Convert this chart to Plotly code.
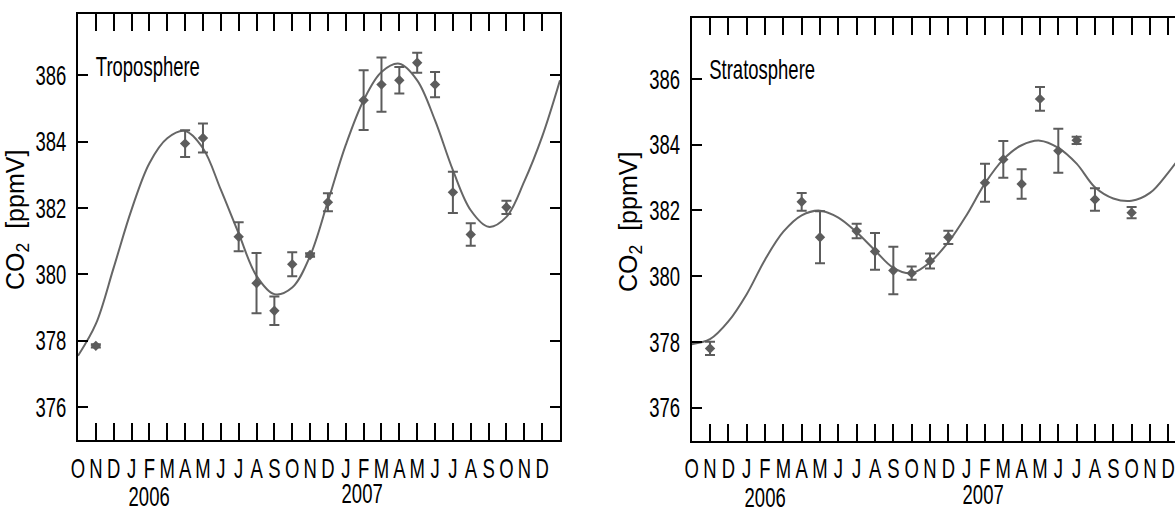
import plotly.graph_objects as go

# ---------------- data ----------------
# month index: 0 = Oct 2005, 1 = Nov 2005, ... 26 = Dec 2007, 27 = Jan 2008
month_labels = ["O", "N", "D", "J", "F", "M", "A", "M", "J", "J", "A", "S",
                "O", "N", "D", "J", "F", "M", "A", "M", "J", "J", "A", "S",
                "O", "N", "D"]
year_labels = ["2006", "2007"]
year_label_pos = [4.0, 15.9]
y_ticks = [376, 378, 380, 382, 384, 386]

tropo_month = [1, 6, 7, 9, 10, 11, 12, 13, 14, 16, 17, 18, 19, 20, 21, 22, 24]
tropo_co2 = [377.84, 383.94, 384.11, 381.13, 379.73, 378.90, 380.30, 380.58,
             382.17, 385.25, 385.72, 385.85, 386.38, 385.72, 382.47, 381.20, 382.02]
tropo_err = [0.05, 0.40, 0.44, 0.44, 0.91, 0.43, 0.36, 0.05,
             0.27, 0.90, 0.82, 0.40, 0.30, 0.38, 0.62, 0.34, 0.20]

strato_month = [1, 6, 7, 9, 10, 11, 12, 13, 14, 16, 17, 18, 19, 20, 21, 22, 24]
strato_co2 = [377.80, 382.26, 381.18, 381.37, 380.75, 380.17, 380.09, 380.46,
              381.18, 382.84, 383.55, 382.80, 385.39, 383.81, 384.13, 382.33, 381.93]
strato_err = [0.20, 0.27, 0.79, 0.22, 0.56, 0.72, 0.20, 0.23,
              0.20, 0.58, 0.56, 0.45, 0.36, 0.67, 0.11, 0.34, 0.17]

fit_month = list(range(28))
tropo_fit = [377.54, 378.50, 380.20, 381.95, 383.35, 384.10, 384.32, 383.80,
             382.55, 381.23, 379.95, 379.40, 379.60, 380.55, 382.20, 383.90,
             385.25, 386.10, 386.35, 385.85, 384.64, 383.14, 381.93, 381.43,
             381.73, 382.80, 384.15, 385.85]
strato_fit = [377.93, 378.08, 378.62, 379.45, 380.50, 381.35, 381.85, 381.99,
              381.78, 381.33, 380.78, 380.25, 380.09, 380.42, 381.03, 381.86,
              382.82, 383.55, 383.98, 384.12, 383.90, 383.42, 382.70, 382.36,
              382.29, 382.53, 383.15, 383.90]

# ---------------- styling ----------------
W, H = 1175, 510
GRAY = "#5c5c5c"
LINE_GRAY = "#666666"
LBL = "Liberation Sans, Arial, Helvetica, sans-serif"
LBL_SIZE = 28


def px(x):
    return x / W


def py(y):
    return 1 - y / H


fig = go.Figure()

for fit, months, co2, err, xa, ya in [
    (tropo_fit, tropo_month, tropo_co2, tropo_err, "x", "y"),
    (strato_fit, strato_month, strato_co2, strato_err, "x2", "y2"),
]:
    fig.add_trace(go.Scatter(
        x=fit_month, y=fit, mode="lines", xaxis=xa, yaxis=ya,
        line=dict(color=LINE_GRAY, width=2, shape="spline", smoothing=1),
        hoverinfo="skip", showlegend=False))
    fig.add_trace(go.Scatter(
        x=months, y=co2, mode="markers", xaxis=xa, yaxis=ya,
        marker=dict(symbol="diamond", size=8, color=GRAY),
        error_y=dict(type="data", array=err, color=GRAY, thickness=2, width=5),
        showlegend=False))

common = dict(showline=True, linecolor="black", linewidth=2, ticks="inside",
              tickcolor="black", tickwidth=1.5, showgrid=False, zeroline=False,
              tickangle=0, automargin=False, ticklabeloverflow="allow",
              tickfont=dict(family=LBL, size=LBL_SIZE, color="black"))

xcommon = dict(common, tickmode="array", tickvals=list(range(27)),
               ticktext=month_labels, ticklen=17, mirror="ticks",
               ticklabelstandoff=2)
ycommon = dict(common, tickmode="array", tickvals=y_ticks,
               ticktext=[str(v) for v in y_ticks], ticklen=10,
               range=[375, 387.85], ticklabelstandoff=4)

fig.update_layout(
    template="none",
    width=W, height=H, autosize=False,
    margin=dict(l=0, r=0, t=0, b=0, pad=0),
    paper_bgcolor="white", plot_bgcolor="white",
    xaxis=dict(xcommon, domain=[px(78), px(560)], range=[0, 27], anchor="y"),
    yaxis=dict(ycommon, domain=[py(440), py(14)], anchor="x", mirror="ticks"),
    xaxis2=dict(xcommon, domain=[px(691.7), 1.0],
                range=[0, (W - 691.7) / 18.33], anchor="y2"),
    yaxis2=dict(ycommon, domain=[py(440.5), py(18)], anchor="x2", mirror=False),
)

annotations = []
for xa, ydelta in [("x", 0), ("x2", 1)]:
    for txt, pos, ypix in zip(year_labels, year_label_pos, [496, 493]):
        annotations.append(dict(text=txt, x=pos, xref=xa, y=py(ypix + ydelta),
                                yref="paper", showarrow=False, borderpad=0,
                                height=26, valign="middle",
                                xanchor="center", yanchor="middle",
                                font=dict(family=LBL, size=LBL_SIZE, color="black")))

annotations.append(dict(text="Troposphere", x=px(148), y=py(67), xref="paper",
                        yref="paper", showarrow=False, xanchor="center",
                        yanchor="middle",
                        font=dict(family=LBL, size=LBL_SIZE, color="black")))
annotations.append(dict(text="Stratosphere", x=px(762), y=py(70), xref="paper",
                        yref="paper", showarrow=False, xanchor="center",
                        yanchor="middle",
                        font=dict(family=LBL, size=LBL_SIZE, color="black")))
for xc, yc in [(17, 220), (630, 222)]:
    annotations.append(dict(text="CO<sub>2</sub>  [ppmV]", x=px(xc), y=py(yc),
                            xref="paper", yref="paper", showarrow=False,
                            textangle=-90, xanchor="center", yanchor="middle",
                            font=dict(family=LBL, size=25, color="black")))

fig.update_layout(annotations=annotations)

# horizontally condense the label texts (the reference uses a condensed face)
squeeze_js = """
var gd = document.getElementById('{plot_id}');
var S = 0.66;
function squeeze(t, pivot) {
  var bb = t.getBBox();
  var p = pivot === 'end' ? bb.x + bb.width : (pivot === 'start' ? bb.x : bb.x + bb.width / 2);
  var tr = t.getAttribute('transform') || '';
  t.setAttribute('transform', tr + ' translate(' + p + ',0) scale(' + S + ',1) translate(' + (-p) + ',0)');
}
gd.querySelectorAll('.xtick text, .x2tick text').forEach(function (t) { squeeze(t, 'middle'); });
gd.querySelectorAll('.ytick text, .y2tick text').forEach(function (t) { squeeze(t, 'end'); });
gd.querySelectorAll('.annotation-text').forEach(function (t) {
  if (t.textContent.indexOf('ppmV') < 0) { squeeze(t, 'middle'); }
});
"""

fig.write_html("out.html", config={"displayModeBar": False},
               post_script=["document.body.style.margin='0';", squeeze_js])
